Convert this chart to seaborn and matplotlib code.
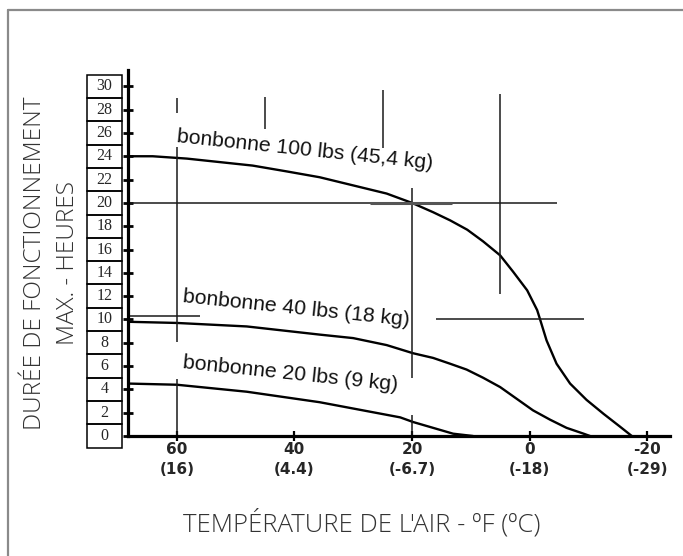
import matplotlib
matplotlib.use("Agg")
import matplotlib.pyplot as plt
import matplotlib.transforms as mtransforms
from matplotlib.patches import Rectangle
from matplotlib.lines import Line2D
import pandas as pd
import seaborn as sns

# ---- data ----
temp_100 = [68.3, 64.1, 58.3, 52.7, 47.1, 41.3, 35.7, 30.0, 24.3, 20.0, 16.4, 13.5, 10.6, 7.9, 5.0,
            2.8, 0.4, -1.3, -1.8, -2.9, -4.6, -6.9, -9.7, -12.6, -15.4, -17.4]
hours_100 = [24.0, 24.0, 23.8, 23.5, 23.2, 22.7, 22.2, 21.5, 20.8, 20.0, 19.2, 18.5, 17.7, 16.7, 15.5,
             14.1, 12.5, 10.8, 10.0, 8.2, 6.2, 4.5, 3.1, 1.9, 0.8, 0.0]

temp_40 = [68.3, 60.0, 48.1, 35.7, 30.0, 24.3, 19.8, 16.4, 13.5, 10.7, 7.9, 5.0, 2.2, -0.6, -3.5, -6.3, -9.2, -10.3]
hours_40 = [9.8, 9.7, 9.4, 8.7, 8.4, 7.8, 7.1, 6.7, 6.2, 5.7, 5.0, 4.2, 3.2, 2.2, 1.4, 0.7, 0.2, 0.0]

temp_20 = [68.3, 60.0, 48.1, 35.7, 22.0, 19.8, 16.4, 13.0, 9.6]
hours_20 = [4.5, 4.4, 3.8, 2.9, 1.6, 1.2, 0.7, 0.2, 0.0]

series_names = ["bonbonne 100 lbs (45,4 kg)", "bonbonne 40 lbs (18 kg)", "bonbonne 20 lbs (9 kg)"]

x_ticks = [60, 40, 20, 0, -20]
x_tick_labels = ["60\n(16)", "40\n(4.4)", "20\n(-6.7)", "0\n(-18)", "-20\n(-29)"]
y_ticks = list(range(0, 31, 2))

# reference guide lines: (temperature, hours_from, hours_to) and (hours, temp_from, temp_to)
guide_vertical = [(60, 29.0, 27.7), (60, 24.8, 8.1), (60, 4.9, 0.0), (45, 29.1, 26.3),
                  (25, 29.7, 24.7), (20, 21.3, 5.0), (20, 1.8, 0.0), (5, 29.3, 12.2)]
guide_horizontal = [(20.0, 68.3, -4.7), (10.0, 15.9, -9.3), (10.3, 68.3, 56.1)]
guide_bold = [(20.0, 27.1, 13.2)]

xlabel = "TEMPÉRATURE DE L'AIR - ºF (ºC)"
ylabel_lines = ["DURÉE DE FONCTIONNEMENT", "MAX. - HEURES"]

# ---- plotting ----
sns.set_style("white")
plt.rcParams["font.family"] = ["DejaVu Sans"]

fig = plt.figure(figsize=(6.83, 5.56), dpi=100)
ax = fig.add_axes([0.1874, 0.2158, 0.7936, 0.6583])

df = pd.concat([
    pd.DataFrame({"temp": temp_100, "hours": hours_100, "series": series_names[0]}),
    pd.DataFrame({"temp": temp_40, "hours": hours_40, "series": series_names[1]}),
    pd.DataFrame({"temp": temp_20, "hours": hours_20, "series": series_names[2]}),
])
sns.lineplot(data=df, x="temp", y="hours", hue="series", palette=["black"] * 3,
             estimator=None, sort=False, legend=False, lw=1.7, ax=ax)

for t, h0, h1 in guide_vertical:
    ax.plot([t, t], [h0, h1], color="#1a1a1a", lw=1.1, solid_capstyle="butt")
for h, t0, t1 in guide_horizontal:
    ax.plot([t0, t1], [h, h], color="#1a1a1a", lw=1.1, solid_capstyle="butt")
for h, t0, t1 in guide_bold:
    ax.plot([t0, t1], [h, h], color="#555555", lw=2.2, solid_capstyle="butt")

ax.set_xlim(68.3, -23.9)
ax.set_ylim(0, 31.4)
ax.set_xlabel("")
ax.set_ylabel("")
for s in ["top", "right"]:
    ax.spines[s].set_visible(False)
for s in ["left", "bottom"]:
    ax.spines[s].set_linewidth(2.3)
    ax.spines[s].set_color("black")

ax.set_yticks(y_ticks)
ax.set_yticklabels([])
ax.tick_params(axis="y", direction="inout", length=7, width=2, color="black", left=True)
ax.set_xticks(x_ticks)
ax.set_xticklabels(x_tick_labels)
ax.tick_params(axis="x", direction="inout", length=7, width=1.6, color="black", bottom=True,
               labelsize=11, pad=1)
for lab in ax.get_xticklabels():
    lab.set_fontweight("bold")
    lab.set_linespacing(1.4)

# boxed y tick labels
trans = mtransforms.blended_transform_factory(ax.transAxes, ax.transData)
for v in y_ticks:
    ax.add_patch(Rectangle((-0.0756, v - 1), 0.0645, 2, transform=trans, fill=False,
                           lw=1.1, ec="black", clip_on=False))
    ax.text(-0.0433, v, str(v), transform=trans, ha="center", va="center",
            family="Liberation Serif", fontsize=11.5, clip_on=False)

# series labels
label_anchor = [(60.0, 25.2), (59.0, 11.5), (59.0, 5.83)]
for name, (tx, ty) in zip(series_names, label_anchor):
    ax.text(tx, ty, name, rotation=-6, rotation_mode="anchor", ha="left", va="baseline",
            family="Liberation Sans", fontsize=15.2, color="#111111")

# axis titles
title_font = dict(family="Open Sans", fontweight="light", color="#333333")
fig.text(0.0512, 0.527, ylabel_lines[0], rotation=90, ha="center", va="center", fontsize=17.5, **title_font)
fig.text(0.1, 0.527, ylabel_lines[1], rotation=90, ha="center", va="center", fontsize=17.5, **title_font)
fig.text(0.530, 0.0594, xlabel, ha="center", va="center", fontsize=18.5, **title_font)

# outer frame (left and top edges visible)
fig.add_artist(Line2D([0.0117, 0.0117], [0.0, 0.982], color="#8a8a8a", lw=1.6, transform=fig.transFigure))
fig.add_artist(Line2D([0.0117, 1.0], [0.982, 0.982], color="#8a8a8a", lw=1.6, transform=fig.transFigure))

fig.savefig("out.png", dpi=100)
